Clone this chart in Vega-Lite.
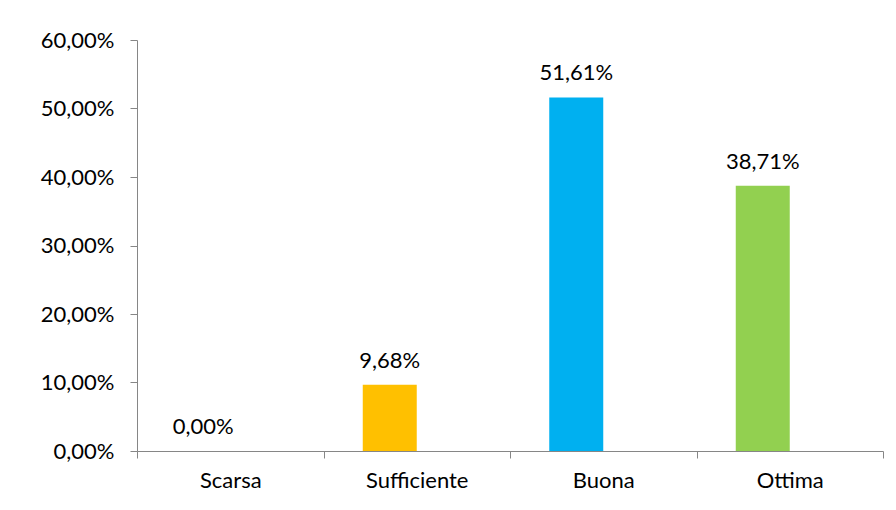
{
  "$schema": "https://vega.github.io/schema/vega-lite/v6.json",
  "width": 746,
  "height": 411,
  "autosize": "none",
  "padding": {"left": 137, "top": 40, "right": 13, "bottom": 59},
  "background": "white",
  "config": {
    "view": {"stroke": null},
    "locale": {"number": {"decimal": ",", "thousands": ".", "grouping": [3], "currency": ["€", ""]}},
    "font": "Lato"
  },
  "data": {
    "values": [
      {"categoria": "Scarsa", "serie": "a", "valore": 0},
      {"categoria": "Sufficiente", "serie": "a", "valore": 0.0968},
      {"categoria": "Buona", "serie": "a", "valore": 0.5161},
      {"categoria": "Ottima", "serie": "a", "valore": 0.3871}
    ]
  },
  "encoding": {
    "x": {
      "field": "categoria",
      "type": "nominal",
      "sort": ["Scarsa", "Sufficiente", "Buona", "Ottima"],
      "scale": {"paddingInner": 0, "paddingOuter": 0},
      "axis": {
        "title": null,
        "labelAngle": 0,
        "tickBand": "extent",
        "domainColor": "#868686",
        "tickColor": "#868686",
        "tickSize": 7,
        "labelFontSize": 22,
        "labelFontWeight": "normal",
        "labelColor": "#000000",
        "labelPadding": 12,
        "labelFont": "Lato"
      }
    },
    "xOffset": {
      "field": "serie",
      "type": "nominal",
      "scale": {"domain": ["a", "b"], "paddingInner": 0, "paddingOuter": 0.727}
    },
    "y": {
      "field": "valore",
      "type": "quantitative",
      "scale": {"domain": [0, 0.6], "nice": false},
      "axis": {
        "title": null,
        "format": ".2%",
        "values": [0, 0.1, 0.2, 0.3, 0.4, 0.5, 0.6],
        "grid": false,
        "domainColor": "#868686",
        "tickColor": "#868686",
        "tickSize": 7,
        "labelFontSize": 22,
        "labelFontWeight": "normal",
        "labelColor": "#000000",
        "labelPadding": 16,
        "labelFont": "Lato"
      }
    }
  },
  "layer": [
    {
      "mark": {"type": "bar"},
      "encoding": {
        "color": {
          "field": "categoria",
          "type": "nominal",
          "scale": {
            "domain": ["Scarsa", "Sufficiente", "Buona", "Ottima"],
            "range": ["#4F81BD", "#FFC000", "#00B0F0", "#92D050"]
          },
          "legend": null
        }
      }
    },
    {
      "mark": {"type": "text", "baseline": "alphabetic", "dy": -17, "fontSize": 22, "color": "#000000", "font": "Lato"},
      "encoding": {
        "text": {"field": "valore", "type": "quantitative", "format": ".2%"}
      }
    }
  ]
}
